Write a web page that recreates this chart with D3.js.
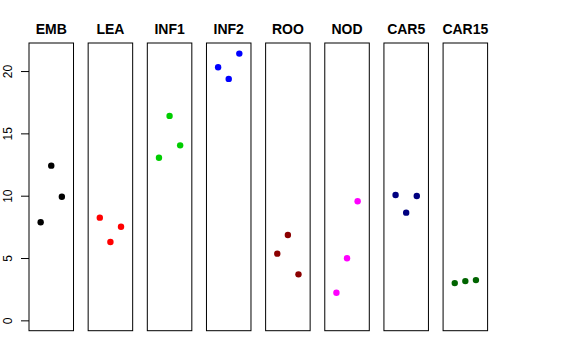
<!DOCTYPE html>
<html><head><meta charset="utf-8">
<script src="https://cdn.jsdelivr.net/npm/d3@7"></script>
<style>body{margin:0;background:#fff}svg{display:block}</style>
</head><body><svg id="c" width="576" height="360"></svg>
<script>
const categories = ["EMB","LEA","INF1","INF2","ROO","NOD","CAR5","CAR15"];
const colors = ["#000000","#FF0000","#00CD00","#0000FF","#8B0000","#FF00FF","#000080","#006400"];
const EMB   = [7.87, 12.41, 9.92];
const LEA   = [8.24, 6.28, 7.51];
const INF1  = [13.05, 16.40, 14.04];
const INF2  = [20.30, 19.37, 21.40];
const ROO   = [5.35, 6.85, 3.69];
const NOD   = [2.22, 4.98, 9.55];
const CAR5  = [10.06, 8.64, 9.98];
const CAR15 = [2.99, 3.15, 3.23];
const seriesValues = [EMB, LEA, INF1, INF2, ROO, NOD, CAR5, CAR15];
const yTicks = [0, 5, 10, 15, 20];

const svg = d3.select("#c");
const band = d3.scaleBand().domain(categories).range([29, 487.6]).paddingInner(0.2475).paddingOuter(0);
const bw = band.bandwidth();
const y = d3.scaleLinear().domain([-0.83, 22.25]).range([330.7, 43]);
const xi = d3.scaleLinear().domain([-0.1, 4.1]).range([0, bw]);

categories.forEach((cat, i) => {
  const g = svg.append("g").attr("transform", `translate(${band(cat)},0)`);
  g.append("rect").attr("x", 0).attr("y", y.range()[1]).attr("width", bw)
    .attr("height", y.range()[0] - y.range()[1]).attr("fill", "none").attr("stroke", "#000").attr("stroke-width", 1);
  g.selectAll("circle").data(seriesValues[i]).enter().append("circle")
    .attr("cx", (d, j) => xi(j + 1)).attr("cy", d => y(d)).attr("r", 3.2).attr("fill", colors[i]);
  svg.append("text").attr("x", band(cat) + bw / 2).attr("y", 34).attr("text-anchor", "middle")
    .attr("font-family", "Liberation Sans, Arial, sans-serif").attr("font-weight", "bold").attr("font-size", 14)
    .text(cat);
});

const axis = d3.axisLeft(y).tickValues(yTicks).tickSize(8).tickPadding(0).tickFormat(d3.format("d"));
const ag = svg.append("g").attr("transform", "translate(29,0)").call(axis);
ag.select(".domain").remove();
ag.selectAll(".tick line").attr("stroke", "#000");
ag.selectAll(".tick text").attr("font-family", "Liberation Sans, Arial, sans-serif").attr("font-size", 12)
  .attr("fill", "#000").attr("text-anchor", "middle").attr("dy", null).attr("x", null)
  .attr("transform", "translate(-21.5,0) rotate(-90)").attr("dominant-baseline", "central");
</script></body></html>
